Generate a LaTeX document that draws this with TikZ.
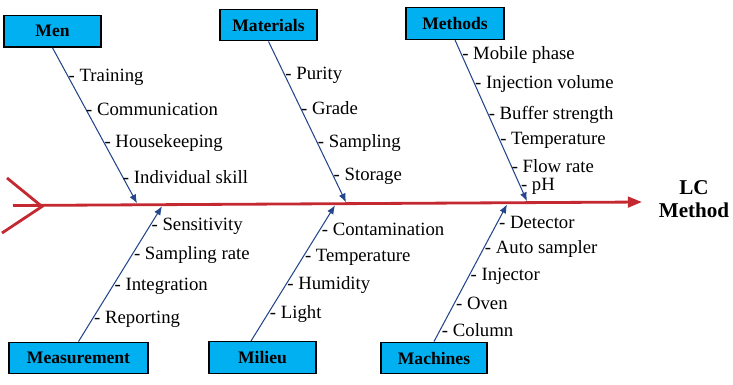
\documentclass[tikz,border=0pt]{standalone}
\usepackage{fontspec}
\setmainfont{Liberation Serif}
\usepackage{xcolor}
\usetikzlibrary{arrows.meta}

\definecolor{boxblue}{RGB}{0,176,240}
\definecolor{boneblue}{RGB}{37,70,140}
\definecolor{spinered}{RGB}{196,40,48}

\begin{document}
\begin{tikzpicture}[x=0.03cm, y=-0.03cm,
    cat/.style={rectangle, draw, line width=1.1pt, fill=boxblue, minimum height=0.95cm, inner sep=0pt, font=\fontsize{15}{17}\selectfont\bfseries},
    bone/.style={draw=boneblue, line width=0.9pt, -{Latex[length=7.5pt,width=6pt]}},
    spine/.style={draw=spinered, line width=2.4pt},
    cause/.style={anchor=west, yshift=-1.2pt, inner xsep=0.5pt, inner ysep=1pt, font=\fontsize{16}{18}\selectfont}]
    \useasboundingbox (0,0) rectangle (733,384);

    % category boxes
    \node [cat, minimum width=2.91cm] (men) at (52.5,31.3) {Men};
    \node [cat, minimum width=2.91cm] (mat) at (268.5,25) {Materials};
    \node [cat, minimum width=2.94cm] (meth) at (455,23.5) {Methods};
    \node [cat, minimum width=4.17cm] (meas) at (78.5,358) {Measurement};
    \node [cat, minimum width=3.21cm] (mil) at (262.5,357.5) {Milieu};
    \node [cat, minimum width=3.18cm] (mach) at (434,358) {Machines};

    % spine and effect
    \coordinate (tail) at (13,205.5);
    \coordinate (fork) at (42,206.5);
    \coordinate (head) at (642,202);
    \node [font=\fontsize{18}{20}\selectfont\bfseries, align=center] (lc) at (694,199) {LC\\Method};
    \draw [spine] (7,178) -- (fork) -- (2,233);
    \draw [spine, -{Triangle[length=12pt,width=9pt]}] (tail) -- (head);

    % where the bones meet the spine
    \coordinate (menhead) at (137,203.3);
    \coordinate (mathead) at (346,202.3);
    \coordinate (methhead) at (527,201.2);
    \coordinate (meashead) at (162,206.2);
    \coordinate (milhead) at (335,205.3);
    \coordinate (machhead) at (507,204.4);

    % upper bones
    \draw [bone] (men.south) -- (menhead)
        node [cause, pos=.179] {- Training}
        node [cause, pos=.385] {- Communication}
        node [cause, pos=.603] {- Housekeeping}
        node [cause, pos=.821] {- Individual skill};
    \draw [bone] (mat.south) -- (mathead)
        node [cause, pos=.204] {- Purity}
        node [cause, pos=.407] {- Grade}
        node [cause, pos=.623] {- Sampling}
        node [cause, pos=.827] {- Storage};
    \draw [bone] (meth.south) -- (methhead)
        node [cause, pos=.086] {- Mobile phase}
        node [cause, pos=.264] {- Injection volume}
        node [cause, pos=.454] {- Buffer strength}
        node [cause, pos=.613] {- Temperature}
        node [cause, pos=.773] {- Flow rate}
        node [cause, pos=.902] {- pH};

    % lower bones
    \draw [bone] (meas.north) -- (meashead)
        node [cause, pos=.174] {- Reporting}
        node [cause, pos=.420] {- Integration}
        node [cause, pos=.652] {- Sampling rate}
        node [cause, pos=.862] {- Sensitivity};
    \draw [bone] ([xshift=-0.345cm]mil.north) -- (milhead)
        node [cause, pos=.212] {- Light}
        node [cause, pos=.420] {- Humidity}
        node [cause, pos=.630] {- Temperature}
        node [cause, pos=.831] {- Contamination};
    \draw [bone] (mach.north) -- (machhead)
        node [cause, pos=.094] {- Column}
        node [cause, pos=.288] {- Oven}
        node [cause, pos=.486] {- Injector}
        node [cause, pos=.683] {- Auto sampler}
        node [cause, pos=.877] {- Detector};
\end{tikzpicture}
\end{document}
